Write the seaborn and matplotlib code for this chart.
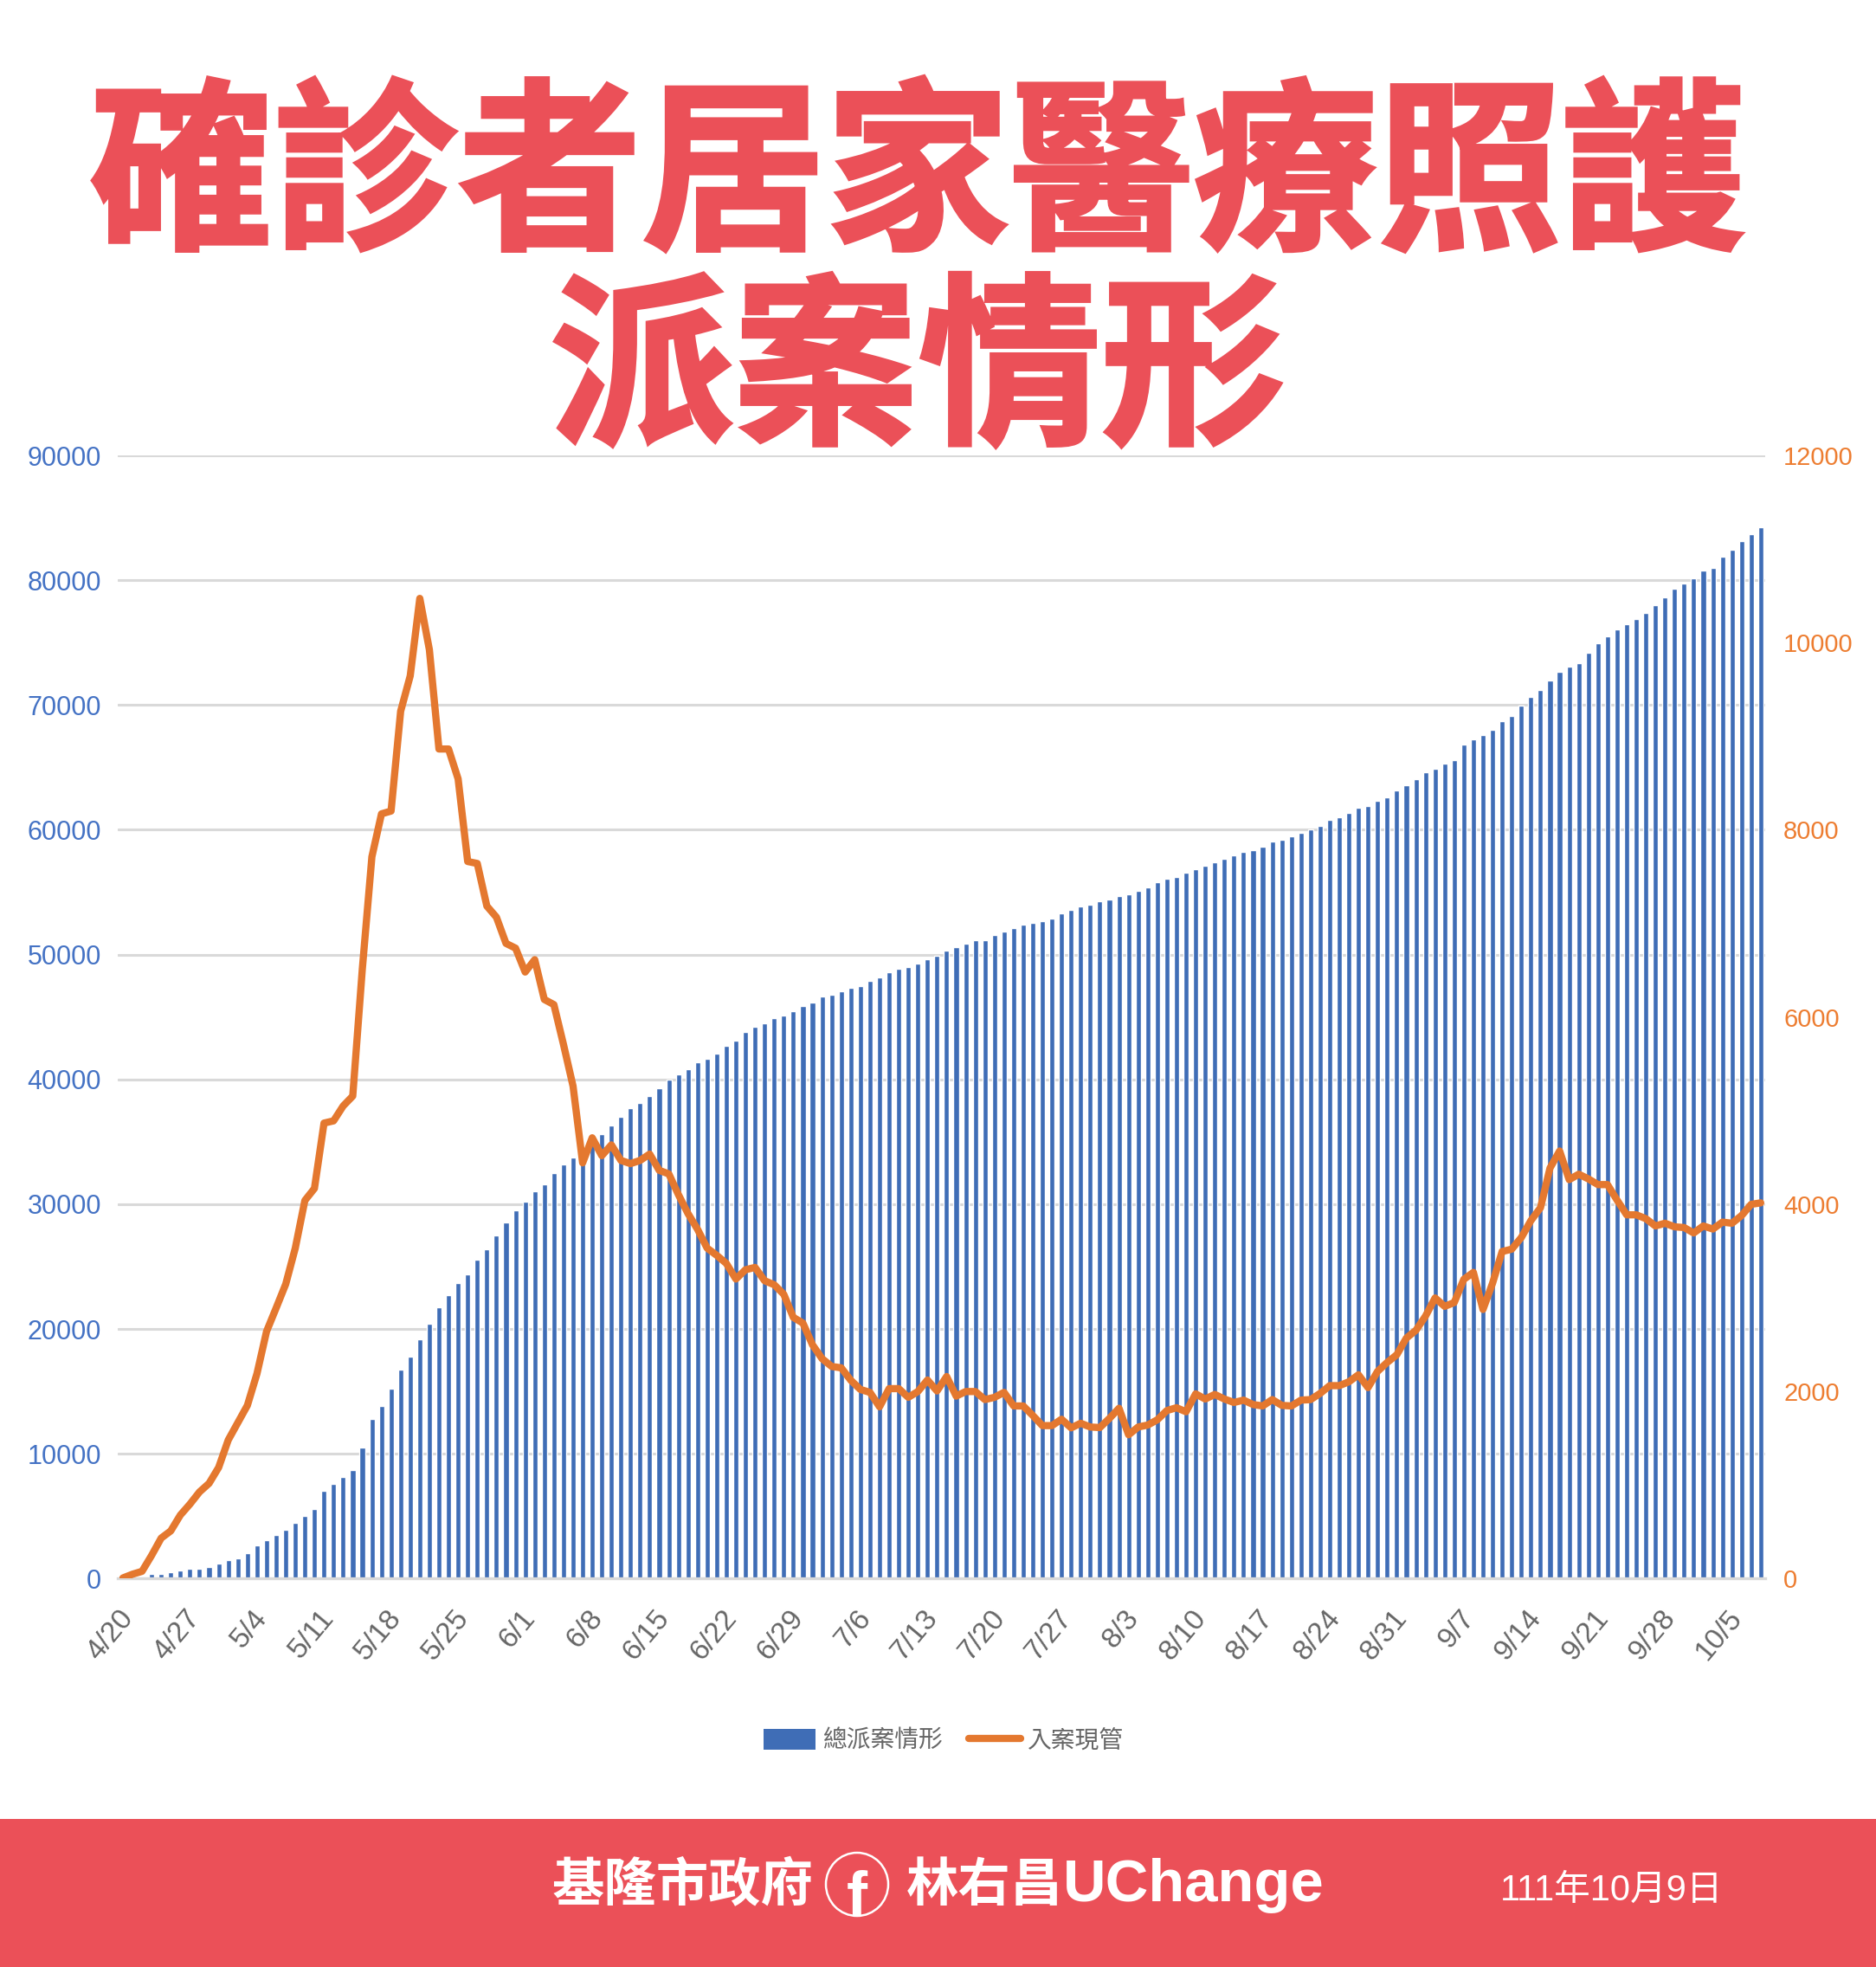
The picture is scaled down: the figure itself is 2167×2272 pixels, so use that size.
import pandas as pd
import matplotlib.pyplot as plt
import seaborn as sns
from matplotlib.lines import Line2D
from matplotlib.patches import Ellipse, Patch, Rectangle
import matplotlib.patheffects as pe

title_lines = ['確診者居家醫療照護', '派案情形']
series_names = ['總派案情形', '入案現管']
date_text = '111年10月9日'

total_cases = [
    0, 0, 90, 350, 350, 510, 650, 790, 790, 925,
    1200, 1500, 1640, 2060, 2640, 3050, 3490, 3910, 4460, 5020,
    5600, 7030, 7560, 8140, 8700, 10520, 12810, 13810, 15220, 16770,
    17760, 19170, 20420, 21740, 22710, 23710, 24400, 25560, 26390, 27520,
    28520, 29510, 30210, 31060, 31620, 32460, 33200, 33770, 34300, 35100,
    35580, 36280, 37010, 37720, 38130, 38670, 39280, 40010, 40400, 40840,
    41380, 41670, 42080, 42660, 43070, 43770, 44190, 44500, 44920, 45080,
    45490, 45910, 46160, 46640, 46770, 47050, 47310, 47470, 47880, 48170,
    48580, 48870, 49030, 49280, 49590, 49870, 50310, 50590, 50860, 51170,
    51170, 51580, 51860, 52140, 52410, 52550, 52690, 52850, 53270, 53550,
    53850, 53990, 54260, 54400, 54700, 54840, 55120, 55400, 55810, 56090,
    56230, 56530, 56810, 57090, 57360, 57670, 57940, 58220, 58360, 58640,
    59080, 59210, 59490, 59770, 60050, 60340, 60770, 61030, 61350, 61770,
    61880, 62330, 62620, 63150, 63580, 64030, 64590, 64880, 65310, 65570,
    66850, 67270, 67560, 67990, 68710, 69100, 69980, 70670, 71230, 71950,
    72660, 73090, 73380, 74200, 74920, 75480, 76060, 76460, 76910, 77340,
    78030, 78610, 79300, 79730, 80150, 80740, 81000, 81850, 82410, 83130,
    83690, 84270,
]

current_cases = [
    6, 46, 77, 247, 432, 509, 678, 795, 925, 1017,
    1187, 1480, 1665, 1850, 2189, 2640, 2890, 3145, 3530, 4039,
    4168, 4866, 4890, 5049, 5155, 6514, 7712, 8170, 8200, 9266,
    9644, 10472, 9924, 8863, 8863, 8544, 7661, 7640, 7185, 7066,
    6786, 6735, 6480, 6612, 6187, 6132, 5707, 5261, 4441, 4709,
    4518, 4633, 4467, 4433, 4467, 4535, 4361, 4323, 4102, 3900,
    3731, 3530, 3453, 3367, 3200, 3299, 3324, 3182, 3139, 3037,
    2790, 2729, 2497, 2349, 2266, 2251, 2118, 2020, 1989, 1835,
    2029, 2029, 1936, 1998, 2121, 2004, 2158, 1949, 1998, 1998,
    1912, 1936, 1989, 1844, 1844, 1742, 1634, 1634, 1702, 1610,
    1659, 1619, 1613, 1711, 1819, 1536, 1619, 1640, 1696, 1795,
    1825, 1782, 1973, 1918, 1967, 1918, 1881, 1906, 1859, 1844,
    1912, 1850, 1844, 1906, 1912, 1978, 2061, 2061, 2102, 2177,
    2040, 2214, 2309, 2391, 2569, 2652, 2804, 2998, 2908, 2949,
    3197, 3271, 2875, 3155, 3494, 3519, 3643, 3824, 3961, 4386,
    4568, 4262, 4320, 4270, 4209, 4209, 4043, 3886, 3886, 3845,
    3767, 3796, 3758, 3750, 3692, 3767, 3734, 3808, 3796, 3878,
    3998, 4014,
]

left_ticks = [0, 10000, 20000, 30000, 40000, 50000, 60000, 70000, 80000, 90000]
right_ticks = [0, 2000, 4000, 6000, 8000, 10000, 12000]

BLUE = '#3F6DB6'
ORANGE = '#E4782F'
RED = '#EB5058'
GRID = '#D9D9D9'
TICK_BLUE = '#4472C4'
TICK_ORANGE = '#ED7D31'
GRAY = '#666666'
W, H = 2167, 2272
CJK = 'Noto Sans CJK TC'
NUM = ['Liberation Sans', CJK]

sns.set_theme(style='white')
plt.rcParams['font.family'] = [CJK, 'DejaVu Sans']

dates = pd.date_range('2022-04-20', periods=len(total_cases))
days = [f'{d.month}/{d.day}' for d in dates]
df = pd.DataFrame({'day': days, 'total': total_cases, 'current': current_cases, 'pos': range(len(days))})


def fx(x):
    return x / W


def fy(y):
    return 1 - y / H


fig = plt.figure(figsize=(W / 100, H / 100), dpi=100, facecolor='white')
ax = fig.add_axes([fx(136.4), fy(1823.3), 1903 / W, 1297.3 / H])

sns.barplot(data=df, x='day', y='total', color=BLUE, saturation=1, width=0.55, ax=ax, zorder=2)
ax.set_xlim(-0.5, len(days) - 0.5)
ax.set_ylim(0, 90000)
ax.set_yticks(left_ticks)
ax.set_yticklabels([str(t) for t in left_ticks], family=NUM, fontsize=22, color=TICK_BLUE)
ax.set_xticks([i - 0.5 for i in range(0, len(days), 7)])
ax.set_xticklabels(days[::7], family=NUM, fontsize=24, color=GRAY,
                   rotation=50, ha='right', va='top', rotation_mode='anchor')
ax.tick_params(axis='y', length=0, pad=14)
ax.tick_params(axis='x', length=9, width=2.2, color=GRID, pad=13)
ax.grid(axis='y', color=GRID, linewidth=2.2, zorder=0)
ax.set_axisbelow(True)
ax.set_xlabel('')
ax.set_ylabel('')
sns.despine(ax=ax, left=True, right=True, top=True)
ax.spines['bottom'].set_color(GRID)
ax.spines['bottom'].set_linewidth(2.4)

ax2 = ax.twinx()
sns.lineplot(data=df, x='pos', y='current', color=ORANGE, linewidth=6, errorbar=None, ax=ax2,
             solid_joinstyle='round', solid_capstyle='round')
ax2.set_ylim(0, 12000)
ax2.set_yticks(right_ticks)
ax2.set_yticklabels([str(t) for t in right_ticks], family=NUM, fontsize=21, color=TICK_ORANGE)
ax2.tick_params(axis='y', length=0, pad=15)
ax2.set_xlabel('')
ax2.set_ylabel('')
ax2.grid(False)
sns.despine(ax=ax2, left=True, right=True, top=True, bottom=True)
ax2.patch.set_visible(False)

handles = [Patch(facecolor=BLUE, edgecolor='none'), Line2D([0], [0], color=ORANGE, linewidth=6)]
fig.legend(handles, series_names, loc='center', bbox_to_anchor=(fx(1090), fy(2011)), ncol=2, frameon=False,
           fontsize=20, labelcolor=GRAY, handlelength=2.15, handleheight=0.95, handletextpad=0.3,
           columnspacing=1.1)

# title and footer sit outside the axes
for line, y in zip(title_lines, [209, 434]):
    fig.text(fx(1060), fy(y), line, ha='center', va='center', fontsize=153, weight='black', color=RED,
             path_effects=[pe.withStroke(linewidth=3, foreground=RED, joinstyle='miter')])

fig.add_artist(Rectangle((0, 0), 1, fy(2101), transform=fig.transFigure, facecolor=RED, edgecolor='none'))
fig.text(fx(638), fy(2178), '基隆市政府', ha='left', va='center', fontsize=43.5, weight='bold', color='white')
fig.add_artist(Ellipse((fx(990), fy(2176.5)), 72 / W, 73 / H, transform=fig.transFigure,
                       facecolor='none', edgecolor='white', linewidth=1.8))
fig.text(fx(990), fy(2213), 'f', ha='center', va='baseline', fontsize=52, weight='bold', color='white',
         family='Liberation Sans')
fig.text(fx(1047), fy(2178), '林右昌', ha='left', va='center', fontsize=43.5, weight='bold', color='white')
fig.text(fx(1228), fy(2178), 'UChange', ha='left', va='center', fontsize=49.5, weight='bold', color='white',
         family='Liberation Sans')
fig.text(fx(1862), fy(2184), date_text, ha='center', va='center', fontsize=30, color='white', family=NUM)

fig.savefig('out.png', dpi=100, facecolor='white')
